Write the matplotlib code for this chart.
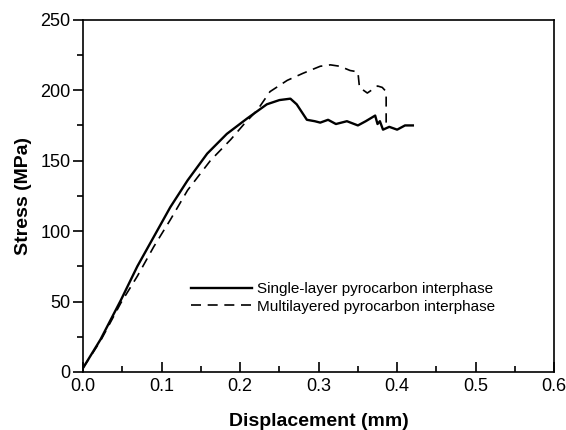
import matplotlib
matplotlib.use('Agg')
import matplotlib.pyplot as plt
from matplotlib.ticker import MultipleLocator, FormatStrFormatter

plt.rcParams['font.family'] = ['Liberation Sans', 'DejaVu Sans']

# Single-layer pyrocarbon interphase
single_x = [0.0, 0.022, 0.048, 0.069, 0.090, 0.111, 0.133, 0.158, 0.183, 0.209, 0.234,
            0.25, 0.264, 0.272, 0.285, 0.295, 0.302, 0.312, 0.322, 0.336, 0.35, 0.36,
            0.372, 0.375, 0.378, 0.382, 0.39, 0.40, 0.41, 0.42]
single_y = [3, 23, 51, 75, 96, 117, 136, 155, 169, 180, 190,
            193, 194, 190, 179, 178, 177, 179, 176, 178, 175, 178,
            182, 176, 178, 172, 174, 172, 175, 175]

# Multilayered pyrocarbon interphase
multi_x = [0.0, 0.022, 0.048, 0.069, 0.090, 0.111, 0.133, 0.162, 0.188, 0.205, 0.222,
           0.238, 0.26, 0.28, 0.302, 0.315, 0.327, 0.34, 0.35, 0.352, 0.362, 0.375,
           0.381, 0.386, 0.386]
multi_y = [3, 22, 49, 68, 89, 108, 129, 150, 165, 176, 186,
           199, 207, 212, 217, 218, 217, 214, 213, 202, 198, 203,
           202, 199, 177]

fig = plt.figure(figsize=(5.66, 4.30), dpi=100)
ax = fig.add_axes([0.147, 0.135, 0.832, 0.819])

ax.plot(single_x, single_y, color='black', lw=1.7, label='Single-layer pyrocarbon interphase')
ax.plot(multi_x, multi_y, color='black', lw=1.2, dashes=(6, 4),
        label='Multilayered pyrocarbon interphase')

ax.set_xlim(0, 0.6)
ax.set_ylim(0, 250)
ax.xaxis.set_major_locator(MultipleLocator(0.1))
ax.xaxis.set_minor_locator(MultipleLocator(0.05))
ax.xaxis.set_major_formatter(FormatStrFormatter('%.1f'))
ax.yaxis.set_major_locator(MultipleLocator(50))
ax.yaxis.set_minor_locator(MultipleLocator(25))
ax.tick_params(axis='x', which='both', direction='in', labelsize=13, pad=4)
ax.tick_params(axis='y', which='both', direction='out', labelsize=13, pad=2)
ax.tick_params(which='major', length=7, width=1.2)
ax.tick_params(which='minor', length=4, width=1.2)
for s in ax.spines.values():
    s.set_linewidth(1.2)

ax.set_xlabel('Displacement (mm)', fontsize=14, fontweight='bold', labelpad=13)
ax.set_ylabel('Stress (MPa)', fontsize=14, fontweight='bold', labelpad=6)

ax.legend(loc='center left', bbox_to_anchor=(0.2, 0.21), frameon=False, fontsize=11,
          handlelength=4.0, handletextpad=0.3, labelspacing=0.2)

fig.savefig('out.png', dpi=100)
